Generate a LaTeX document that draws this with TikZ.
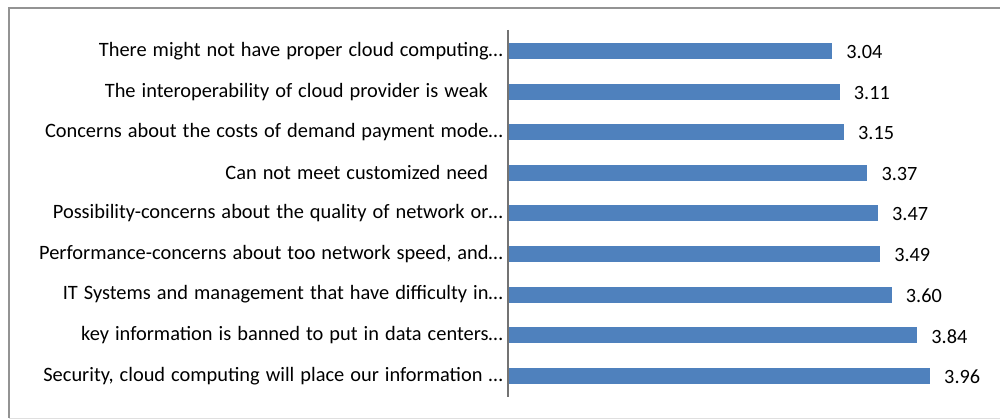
\documentclass[tikz,border=0pt]{standalone}
\usepackage{fontspec}
\setmainfont{Carlito}[WordSpace={1.3,1,1}]
\begin{document}
\begin{tikzpicture}[x=0.75pt,y=-0.75pt,
  cat/.style={anchor=east,inner sep=0pt,font=\fontsize{15.3}{16}\selectfont},
  val/.style={anchor=west,inner sep=0pt,font=\fontsize{15.2}{16}\selectfont}]
\definecolor{barblue}{RGB}{79,129,189}
\useasboundingbox (0,0) rectangle (1000,420);
\draw[gray!85,line width=1.5pt] (9,418) -- (9,8) -- (1000,8);
\draw[gray!25,line width=1pt] (9,418.5) -- (1000,418.5);
\draw[gray!90!black,line width=1.2pt] (508,30) coordinate (axt) -- (508,397) coordinate (axb);
\def\sc{106.3}
\foreach \v/\t [count=\i from 0] in {
 3.04/{There might not have proper cloud computing\dots},
 3.11/{The interoperability of cloud provider is weak\kern 11pt},
 3.15/{Concerns about the costs of demand payment mode\dots},
 3.37/{Can not meet customized need\kern 11pt},
 3.47/{Possibility-concerns about the quality of network or\dots},
 3.49/{Performance-concerns about too network speed, and\dots},
 3.60/{IT Systems and management that have difficulty in\dots},
 3.84/{key information is banned to put in data centers\dots},
 3.96/{Security, cloud computing will place our information \dots}}
{
  \pgfmathsetmacro\yc{51+\i*40.6}
  \pgfmathsetmacro\xe{509+\v*\sc}
  \fill[barblue] (509,\yc-8) rectangle (\xe,\yc+8);
  \node[cat] (c\i) at (503,\yc) {\t};
  \node[val] (v\i) at (\xe+14,\yc+1) {\v};
}
\end{tikzpicture}
\end{document}
